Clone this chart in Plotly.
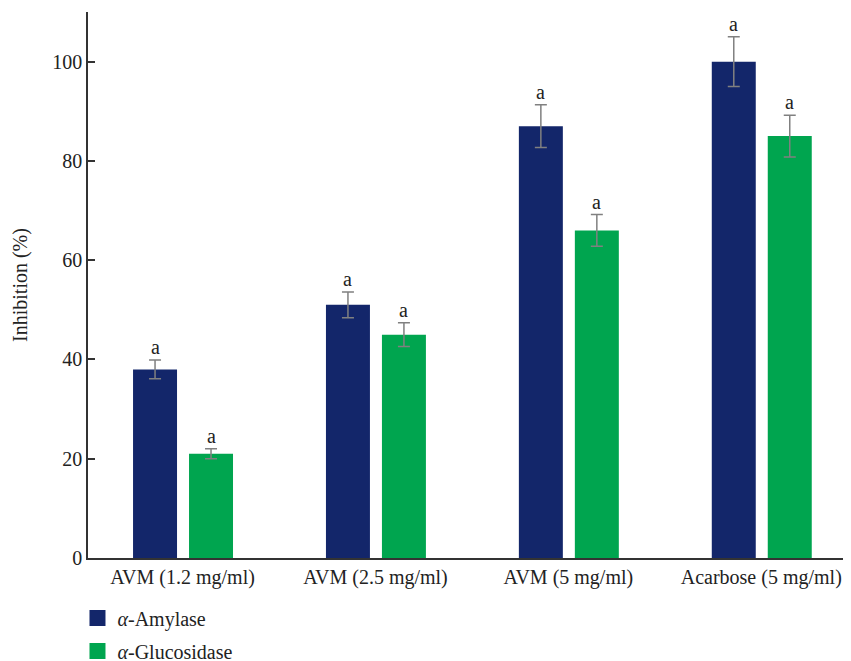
import plotly.graph_objects as go

categories = ["AVM (1.2 mg/ml)", "AVM (2.5 mg/ml)", "AVM (5 mg/ml)", "Acarbose (5 mg/ml)"]
amylase = [38, 51, 87, 100]
amylase_err = [1.9, 2.6, 4.3, 5.0]
glucosidase = [21, 45, 66, 85]
glucosidase_err = [1.0, 2.4, 3.2, 4.2]
letters_amylase = ["a", "a", "a", "a"]
letters_glucosidase = ["a", "a", "a", "a"]
series_names = ["<i>α</i>-Amylase", "<i>α</i>-Glucosidase"]
series_colors = ["#13266A", "#00A54F"]

FONT = "Liberation Serif"
FS = 20
BAR_W = 0.228
OFF_A = -0.2565
OFF_G = 0.0337

fig = go.Figure()
fig.add_trace(go.Bar(
    x=categories, y=amylase, name=series_names[0], showlegend=False,
    width=BAR_W, offset=OFF_A,
    marker=dict(color=series_colors[0], line=dict(width=0)),
    error_y=dict(type="data", array=amylase_err, color="#808080", thickness=1.5, width=6),
))
fig.add_trace(go.Bar(
    x=categories, y=glucosidase, name=series_names[1], showlegend=False,
    width=BAR_W, offset=OFF_G,
    marker=dict(color=series_colors[1], line=dict(width=0)),
    error_y=dict(type="data", array=glucosidase_err, color="#808080", thickness=1.5, width=6),
))
# legend entries with larger square swatches
for i, (nm, col) in enumerate(zip(series_names, series_colors)):
    fig.add_trace(go.Scatter(
        x=[None], y=[None], mode="markers", name=nm, legendgroup=f"g{i}",
        marker=dict(symbol="square", size=19, color=col), showlegend=True,
    ))

PX_PER_CAT = 762 / 3.95
annotations = []
for i, c in enumerate(categories):
    annotations.append(dict(x=i, y=amylase[i] + amylase_err[i], xref="x", yref="y",
                            text=letters_amylase[i], showarrow=False, yanchor="bottom",
                            xshift=(OFF_A + BAR_W / 2) * PX_PER_CAT, yshift=0,
                            font=dict(family=FONT, size=FS, color="#222")))
    annotations.append(dict(x=i, y=glucosidase[i] + glucosidase_err[i], xref="x", yref="y",
                            text=letters_glucosidase[i], showarrow=False, yanchor="bottom",
                            xshift=(OFF_G + BAR_W / 2) * PX_PER_CAT, yshift=0,
                            font=dict(family=FONT, size=FS, color="#222")))

fig.update_layout(
    width=851, height=661,
    margin=dict(l=80, r=9, t=4, b=111, autoexpand=False),
    paper_bgcolor="white", plot_bgcolor="white",
    barmode="overlay",
    font=dict(family=FONT, size=FS, color="#222"),
    showlegend=True,
    legend=dict(x=-0.0138, y=-0.074, xanchor="left", yanchor="top", orientation="v",
                font=dict(family=FONT, size=FS, color="#222"), tracegroupgap=4,
                itemwidth=30),
    annotations=annotations,
    xaxis=dict(range=[-0.49, 3.46], showline=True, linecolor="#333", linewidth=1.5,
               ticks="", showgrid=False, tickfont=dict(family=FONT, size=FS)),
    yaxis=dict(range=[0, 110], showline=True, linecolor="#333", linewidth=1.5,
               ticks="inside", ticklen=7, tickcolor="#333", tickwidth=1.5,
               tickvals=[0, 20, 40, 60, 80, 100], showgrid=False, zeroline=False,
               title=dict(text="Inhibition (%)", font=dict(family=FONT, size=FS), standoff=19),
               tickfont=dict(family=FONT, size=FS)),
)
fig.write_html("out.html")
